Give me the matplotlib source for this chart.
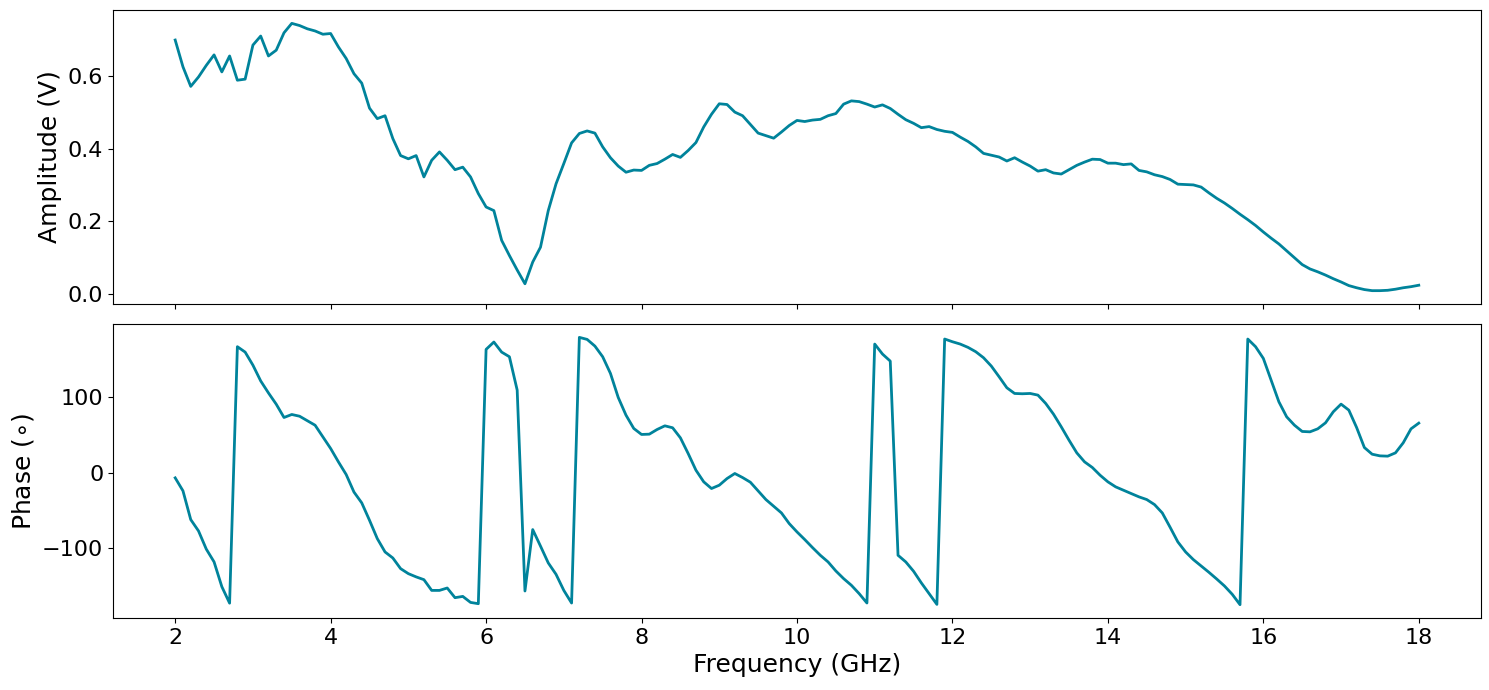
import numpy as np
import matplotlib
matplotlib.use("Agg")
import matplotlib.pyplot as plt

freq_ghz = np.round(np.arange(2.0, 18.0001, 0.1), 1)

amplitude_v = [
    0.700, 0.626, 0.572, 0.598, 0.630, 0.659, 0.612, 0.656, 0.589, 0.592,
    0.686, 0.711, 0.656, 0.672, 0.720, 0.746, 0.740, 0.731, 0.725, 0.716,
    0.718, 0.681, 0.649, 0.607, 0.581, 0.512, 0.483, 0.491, 0.428, 0.381,
    0.372, 0.381, 0.322, 0.368, 0.391, 0.368, 0.342, 0.349, 0.322, 0.276,
    0.239, 0.229, 0.147, 0.105, 0.065, 0.027, 0.087, 0.128, 0.229, 0.303,
    0.359, 0.416, 0.442, 0.449, 0.443, 0.405, 0.375, 0.352, 0.335, 0.341,
    0.340, 0.354, 0.359, 0.371, 0.384, 0.376, 0.395, 0.417, 0.460, 0.495,
    0.524, 0.522, 0.501, 0.491, 0.467, 0.443, 0.436, 0.429, 0.446, 0.464,
    0.478, 0.475, 0.479, 0.481, 0.491, 0.497, 0.523, 0.532, 0.530, 0.523,
    0.515, 0.521, 0.511, 0.495, 0.480, 0.470, 0.458, 0.461, 0.453, 0.448,
    0.445, 0.432, 0.420, 0.405, 0.387, 0.382, 0.377, 0.366, 0.375, 0.363,
    0.352, 0.338, 0.342, 0.333, 0.330, 0.342, 0.354, 0.363, 0.371, 0.370,
    0.360, 0.360, 0.356, 0.358, 0.340, 0.336, 0.328, 0.323, 0.315, 0.302,
    0.301, 0.300, 0.294, 0.278, 0.263, 0.250, 0.235, 0.219, 0.204, 0.188,
    0.170, 0.153, 0.137, 0.118, 0.099, 0.080, 0.068, 0.060, 0.051, 0.041,
    0.032, 0.022, 0.016, 0.011, 0.008, 0.008, 0.009, 0.012, 0.016, 0.019,
    0.023,
]

phase_deg = [
    -7.1, -24.4, -62.7, -77.8, -102.0, -119.0, -152.0, -174.0, 167.6, 160.4,
    143.0, 122.0, 106.0, 91.0, 73.3, 77.3, 75.0, 69.0, 63.0, 47.6,
    32.0, 14.2, -2.7, -26.0, -40.4, -63.6, -88.0, -105.8, -113.8, -128.0,
    -134.7, -139.0, -142.7, -157.0, -157.0, -153.8, -166.7, -165.0, -173.0, -174.7,
    164.0, 173.8, 160.4, 154.2, 109.8, -157.8, -76.0, -98.0, -120.4, -135.6,
    -157.0, -173.8, 180.0, 177.3, 168.4, 154.2, 132.0, 100.0, 76.4, 58.7,
    50.7, 51.1, 57.3, 62.2, 59.6, 46.2, 25.3, 3.1, -12.4, -21.3,
    -16.9, -8.0, -1.3, -6.7, -12.9, -24.4, -36.0, -44.9, -53.8, -68.0,
    -79.1, -89.3, -100.0, -110.2, -119.1, -131.1, -141.3, -150.2, -161.3, -173.8,
    171.1, 157.8, 148.4, -110.2, -119.1, -131.5, -147.0, -161.3, -175.6, 177.8,
    174.2, 171.1, 166.7, 160.9, 152.9, 141.8, 127.6, 112.9, 105.3, 104.9,
    105.3, 103.1, 92.0, 77.8, 60.9, 43.1, 26.2, 14.2, 6.7, -3.6,
    -12.4, -19.1, -23.6, -28.0, -32.4, -36.0, -42.7, -53.8, -72.8, -92.4,
    -105.8, -116.0, -124.4, -132.9, -141.8, -151.1, -162.2, -176.0, 177.8, 167.6,
    152.0, 123.1, 94.2, 74.2, 63.1, 54.7, 54.2, 58.2, 66.2, 80.9,
    91.1, 83.1, 60.0, 33.3, 24.4, 22.2, 21.8, 26.2, 39.6, 58.2,
    65.8,
]

line_color = "#00839b"

fig, (ax1, ax2) = plt.subplots(2, 1, sharex=True, figsize=(14.89, 6.90), dpi=100)
fig.subplots_adjust(left=0.0759, right=0.9946, top=0.9855, bottom=0.1043, hspace=0.068)

ax1.plot(freq_ghz, amplitude_v, color=line_color, linewidth=2)
ax1.set_ylabel("Amplitude (V)", fontsize=18)
ax1.tick_params(labelsize=16)

ax2.plot(freq_ghz, phase_deg, color=line_color, linewidth=2)
ax2.set_ylabel(r"Phase ($\circ$)", fontsize=18)
ax2.set_xlabel("Frequency (GHz)", fontsize=18)
ax2.tick_params(labelsize=16)
ax2.set_xticks([2, 4, 6, 8, 10, 12, 14, 16, 18])

fig.savefig("out.png", dpi=100)
